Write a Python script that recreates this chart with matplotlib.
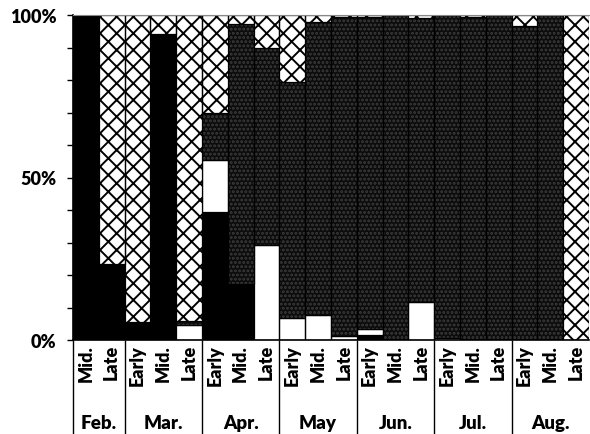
import matplotlib
matplotlib.use("Agg")
import matplotlib.pyplot as plt
import numpy as np

# stacked shares (%) per half-month period
periods = ["Mid.", "Late",
           "Early", "Mid.", "Late",
           "Early", "Mid.", "Late",
           "Early", "Mid.", "Late",
           "Early", "Mid.", "Late",
           "Early", "Mid.", "Late",
           "Early", "Mid.", "Late"]
months = ["Feb.", "Mar.", "Apr.", "May", "Jun.", "Jul.", "Aug."]
month_sizes = [2, 3, 3, 3, 3, 3, 3]

black = [100, 23.4, 5.6, 94.3, 0, 39.4, 17.2, 0, 0, 0,
         0, 1.5, 0, 0, 0, 0, 0, 0, 0, 0]
white = [0, 0, 0, 0, 4.5, 16.0, 0, 29.2, 6.7, 7.7,
         1.1, 2.0, 0, 11.6, 0.5, 0, 0, 0, 0, 0]
gray = [0, 0, 0, 0, 1.5, 14.4, 80.0, 60.5, 72.6, 90.1,
        98.3, 96.0, 100, 87.4, 99.5, 99.5, 100, 96.7, 100, 0]
cross = [0, 76.6, 94.4, 5.7, 94.0, 30.2, 2.8, 10.3, 20.7, 2.2,
         0.6, 0.5, 0, 1.0, 0, 0.5, 0, 3.3, 0, 100]

plt.rcParams["font.family"] = ["Lato", "DejaVu Sans"]
plt.rcParams["font.weight"] = "bold"
plt.rcParams["hatch.linewidth"] = 1.4

fig = plt.figure(figsize=(5.9, 4.35), dpi=100)
ax = fig.add_axes([73 / 590, 1 - 341 / 435, 516 / 590, 325 / 435])

x = np.arange(len(periods))
series = [
    (black, "black", "black", None),
    (white, "white", "black", None),
    (gray, "#0c0c0c", "#3c3c3c", "...."),
    (cross, "white", "black", "xx"),
]
bottom = np.zeros(len(x))
for vals, fc, hc, hatch in series:
    vals = np.array(vals, dtype=float)
    ax.bar(x, vals, bottom=bottom, width=1.0, color=fc, edgecolor=hc,
           hatch=hatch, linewidth=0)
    ax.bar(x, vals, bottom=bottom, width=1.0, fill=False,
           edgecolor="black", linewidth=0.9)
    bottom += vals

ax.set_xlim(-0.5, len(x) - 0.5)
ax.set_ylim(0, 100)
ax.set_yticks(np.arange(0, 101, 10))
ax.set_yticklabels([f"{v}%" if v % 50 == 0 else "" for v in range(0, 101, 10)],
                   fontsize=13, fontweight="heavy")
ax.tick_params(axis="y", length=4, width=1, pad=8)

ax.set_xticks(x)
ax.set_xticklabels(periods, rotation=90, fontsize=13, fontweight="heavy",
                   va="top")
ax.tick_params(axis="x", which="major", length=0, pad=3)

bounds = np.cumsum([0] + month_sizes) - 0.5
ax.set_xticks(bounds[:-1], minor=True)
ax.tick_params(axis="x", which="minor", length=68, width=1)

centers = (bounds[:-1] + bounds[1:]) / 2
for cx, m in zip(centers, months):
    ax.text(cx, -25.3, m, ha="center", va="center", fontsize=13.5,
            fontweight="heavy", transform=ax.transData, clip_on=False)

ax.spines["right"].set_visible(False)
ax.spines["top"].set_color("#888888")
ax.spines["left"].set_linewidth(1.2)
ax.spines["bottom"].set_linewidth(1.2)

fig.savefig("out.png", dpi=100)
